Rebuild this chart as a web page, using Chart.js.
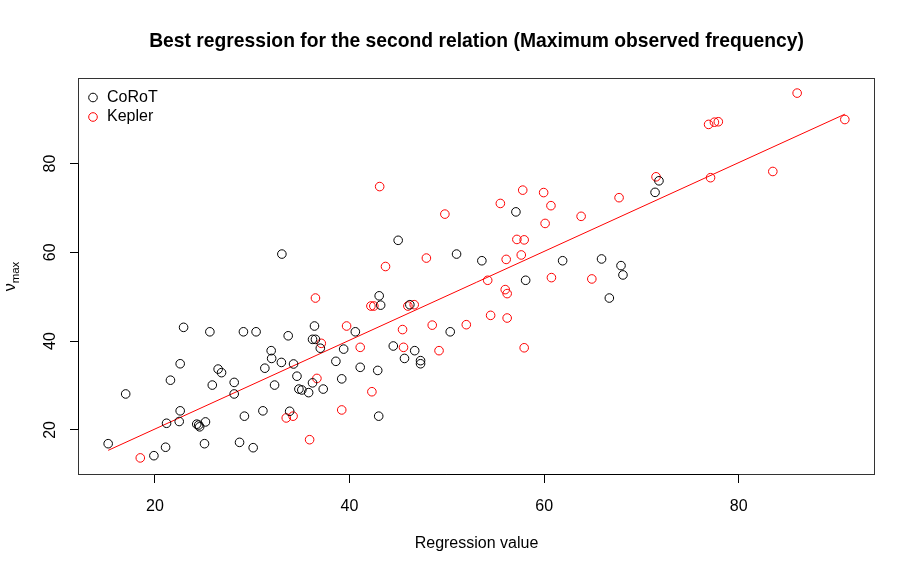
<!DOCTYPE html>
<html>
<head>
<meta charset="utf-8">
<title>Best regression for the second relation</title>
<script src="https://cdn.jsdelivr.net/npm/chart.js@4.4.1/dist/chart.umd.min.js"></script>
<style>
    html, body { margin: 0; padding: 0; background: #fff; }
    #wrap { width: 915px; height: 573px; }
</style>
</head>
<body>
<div id="wrap"><canvas id="fitChart" width="915" height="573"></canvas></div>
<script>
// data
const corotX = [15.2, 17.0, 19.9, 21.1, 21.2, 21.6, 22.5, 22.6, 22.6, 22.95,
    24.3, 24.6, 24.5, 25.2, 25.1, 25.65, 25.9, 26.5, 26.85, 28.15,
    28.15, 28.7, 29.1, 29.2, 30.1, 30.4, 31.1, 31.3, 31.95, 32.0,
    32.3, 33.0, 33.05, 33.7, 33.85, 34.25, 34.6, 34.8, 35.1, 35.8,
    36.2, 36.2, 36.4, 36.5, 37.0, 37.3, 38.6, 39.2, 39.4, 40.6,
    41.1, 42.9, 43.0, 43.05, 43.2, 44.5, 45.0, 45.65, 46.2, 46.7,
    47.3, 47.3, 50.35, 51.0, 53.6, 57.1, 58.1, 61.9, 65.9, 66.7,
    67.9, 68.1, 71.4, 71.8];
const corotY = [16.9, 28.1, 14.2, 16.1, 21.5, 31.2, 21.9, 24.3, 34.9, 43.1,
    21.3, 20.7, 21.1, 21.8, 16.9, 42.1, 30.1, 33.7, 32.9, 30.7,
    28.1, 17.2, 42.1, 23.1, 16.0, 42.1, 24.3, 33.9, 37.85, 36.1,
    30.1, 35.2, 59.6, 41.2, 24.2, 34.85, 32.1, 29.2, 29.0, 28.4,
    30.6, 40.4, 43.4, 40.4, 38.4, 29.2, 35.45, 31.5, 38.2, 42.1,
    34.1, 33.4, 23.1, 50.2, 48.1, 38.9, 62.7, 36.1, 48.2, 37.85,
    35.6, 34.9, 42.1, 59.6, 58.1, 69.1, 53.7, 58.1, 58.5, 49.7,
    57.0, 54.9, 73.5, 76.1];

const keplerX = [18.5, 33.5, 34.2, 35.9, 36.5, 36.65, 37.1, 39.2, 39.7, 41.1,
    42.2, 42.5, 42.3, 43.1, 43.7, 45.45, 45.55, 46.0, 46.65, 47.9,
    48.5, 49.2, 49.8, 52.0, 54.2, 54.5, 55.5, 56.0, 56.2, 56.1,
    56.2, 57.2, 57.65, 57.8, 57.95, 57.95, 59.95, 60.1, 60.7, 60.75,
    63.8, 64.9, 67.7, 71.5, 76.9, 77.1, 77.5, 77.9, 83.5, 86.0,
    90.9];
const keplerY = [13.7, 22.7, 23.1, 17.8, 49.7, 31.6, 39.5, 24.5, 43.4, 38.6,
    47.9, 47.9, 28.6, 74.8, 56.8, 42.6, 38.6, 47.9, 48.2, 58.7,
    43.6, 37.85, 68.6, 43.7, 53.7, 45.8, 71.0, 51.6, 50.7, 58.4,
    45.2, 62.9, 59.4, 74.0, 62.8, 38.5, 73.45, 66.5, 70.5, 54.3,
    68.1, 54.0, 72.3, 77.0, 88.8, 76.8, 89.3, 89.4, 78.2, 95.85,
    89.9];

// fitted line end points
const fitX = [15.2, 90.9];
const fitY = [15.4, 91.1];

const xTicks = [20, 40, 60, 80];
const yTicks = [20, 40, 60, 80];
const xRange = [12.1, 94.0];
const yRange = [9.85, 99.25];

const titleText = "Best regression for the second relation (Maximum observed frequency)";
const xTitle = "Regression value";

const FONT = "'Liberation Sans', Arial, Helvetica, sans-serif";

function toPoints(xs, ys) {
    return xs.map((x, i) => ({ x: x, y: ys[i] }));
}

// R style decorations: box, axis lines, rotated y labels, titles, legend
const rDecor = {
    id: "rDecor",
    afterDraw(chart) {
        const ctx = chart.ctx;
        const a = chart.chartArea;
        const xs = chart.scales.x;
        const ys = chart.scales.y;
        ctx.save();

        ctx.strokeStyle = "#333";
        ctx.lineWidth = 1;
        ctx.strokeRect(a.left + 0.5, a.top + 0.5, a.right - a.left - 1, a.bottom - a.top - 1);

        // axis lines between first and last tick
        ctx.strokeStyle = "#000";
        ctx.beginPath();
        ctx.moveTo(xs.getPixelForValue(xTicks[0]), a.bottom - 0.5);
        ctx.lineTo(xs.getPixelForValue(xTicks[xTicks.length - 1]), a.bottom - 0.5);
        ctx.moveTo(a.left + 0.5, ys.getPixelForValue(yTicks[0]));
        ctx.lineTo(a.left + 0.5, ys.getPixelForValue(yTicks[yTicks.length - 1]));
        ctx.stroke();

        ctx.fillStyle = "#000";
        ctx.font = "16px " + FONT;
        ctx.textAlign = "center";
        ctx.textBaseline = "middle";
        yTicks.forEach((v) => {
            ctx.save();
            ctx.translate(51, ys.getPixelForValue(v));
            ctx.rotate(-Math.PI / 2);
            ctx.fillText(String(v), 0, 0);
            ctx.restore();
        });

        // title
        ctx.font = "bold 19.3px " + FONT;
        ctx.fillText(titleText, (a.left + a.right) / 2, 42);

        // x title
        ctx.font = "16px " + FONT;
        ctx.fillText(xTitle, (a.left + a.right) / 2, 544);

        // y title: nu with subscript max
        ctx.save();
        ctx.translate(0, (a.top + a.bottom) / 2);
        ctx.rotate(-Math.PI / 2);
        ctx.textAlign = "left";
        ctx.textBaseline = "alphabetic";
        ctx.font = "16px " + FONT;
        const nuW = ctx.measureText("ν").width;
        ctx.font = "11.5px " + FONT;
        const subW = ctx.measureText("max").width;
        const x0 = -(nuW + subW) / 2;
        ctx.font = "16px " + FONT;
        ctx.fillText("ν", x0, 15);
        ctx.font = "11.5px " + FONT;
        ctx.fillText("max", x0 + nuW, 18.5);
        ctx.restore();

        // legend
        ctx.textAlign = "left";
        ctx.textBaseline = "middle";
        ctx.font = "16px " + FONT;
        const entries = chart.data.datasets.filter((d) => d.inLegend);
        entries.forEach((d, i) => {
            const y = 97.5 + i * 19.5;
            ctx.strokeStyle = d.borderColor;
            ctx.lineWidth = 1;
            ctx.beginPath();
            ctx.arc(93, y, 4.3, 0, Math.PI * 2);
            ctx.stroke();
            ctx.fillStyle = "#000";
            ctx.fillText(d.label, 107, y);
        });

        ctx.restore();
    },
};

const ctx = document.getElementById("fitChart").getContext("2d");

new Chart(ctx, {
    type: "scatter",
    data: {
        datasets: [
            {
                label: "CoRoT",
                inLegend: true,
                data: toPoints(corotX, corotY),
                borderColor: "#000000",
                backgroundColor: "rgba(0,0,0,0)",
                borderWidth: 1,
                pointRadius: 4.3,
            },
            {
                label: "Kepler",
                inLegend: true,
                data: toPoints(keplerX, keplerY),
                borderColor: "#ff0000",
                backgroundColor: "rgba(0,0,0,0)",
                borderWidth: 1,
                pointRadius: 4.3,
            },
            {
                label: "fit",
                inLegend: false,
                type: "line",
                data: toPoints(fitX, fitY),
                borderColor: "#ff0000",
                borderWidth: 1,
                pointRadius: 0,
                fill: false,
            },
        ],
    },
    options: {
        responsive: false,
        animation: false,
        layout: {
            padding: { top: 78, right: 40, left: 0, bottom: 0 },
        },
        plugins: {
            legend: { display: false },
            tooltip: { enabled: false },
        },
        scales: {
            x: {
                type: "linear",
                min: xRange[0],
                max: xRange[1],
                afterBuildTicks: (axis) => {
                    axis.ticks = xTicks.map((v) => ({ value: v }));
                },
                afterFit: (axis) => {
                    axis.height = 98;
                },
                border: { display: false },
                grid: {
                    drawOnChartArea: false,
                    drawTicks: true,
                    tickLength: 8,
                    color: "#000",
                },
                ticks: {
                    color: "#000",
                    padding: 14,
                    maxRotation: 0,
                    font: { family: FONT, size: 16 },
                },
            },
            y: {
                type: "linear",
                min: yRange[0],
                max: yRange[1],
                afterBuildTicks: (axis) => {
                    axis.ticks = yTicks.map((v) => ({ value: v }));
                },
                afterFit: (axis) => {
                    axis.width = 78;
                },
                border: { display: false },
                grid: {
                    drawOnChartArea: false,
                    drawTicks: true,
                    tickLength: 8,
                    color: "#000",
                },
                ticks: { display: false },
            },
        },
    },
    plugins: [rDecor],
});
</script>
</body>
</html>
